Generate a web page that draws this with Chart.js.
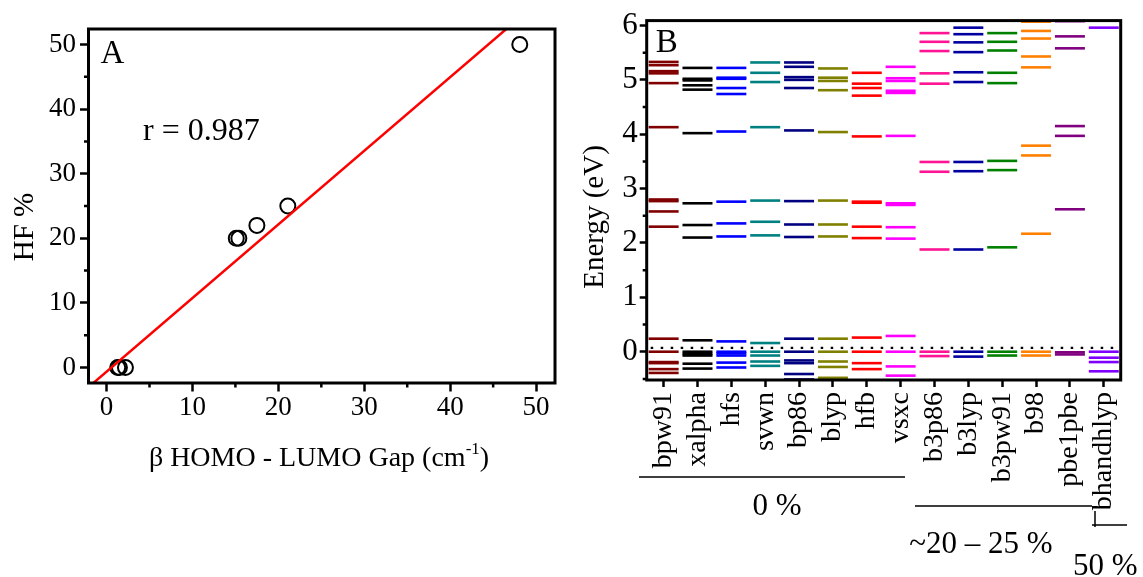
<!DOCTYPE html>
<html>
<head>
<meta charset="utf-8">
<script src="https://cdn.jsdelivr.net/npm/chart.js@4.4.0/dist/chart.umd.min.js"></script>
<style>
  html, body { margin: 0; padding: 0; background: #fff; }
  #wrap { position: relative; width: 1143px; height: 577px; }
  #wrap canvas { position: absolute; left: 0; top: 0; }
</style>
</head>
<body>
<div id="wrap">
  <canvas id="chart-a" width="1143" height="577"></canvas>
  <canvas id="chart-b" width="1143" height="577"></canvas>
</div>
<script>
// ── Panel A data: HF % vs beta HOMO-LUMO gap ─────────────────────
const gapValues = [1.3, 1.5, 2.2, 15.1, 15.4, 17.5, 21.1, 48.1];
const hfPercent = [0, 0, 0, 20, 20, 22, 25, 50];
const fitGap = [-2.5, 52.5];
const fitHF = [-3.5, 59.2];
const gapTicks = [0, 10, 20, 30, 40, 50];
const gapMinor = [5, 15, 25, 35, 45];
const hfTicks = [0, 10, 20, 30, 40, 50];
const hfMinor = [5, 15, 25, 35, 45];

// ── Panel B data: orbital energies (eV) per functional ───────────
const functionals = ['bpw91', 'xalpha', 'hfs', 'svwn', 'bp86', 'blyp', 'hfb', 'vsxc',
  'b3p86', 'b3lyp', 'b3pw91', 'b98', 'pbe1pbe', 'bhandhlyp'];
const levelColors = ['#800000', '#000000', '#0000FF', '#008080', '#000080', '#808000', '#FF0000', '#FF00FF',
  '#FF1493', '#0000A0', '#008000', '#FF8000', '#800080', '#8000FF'];

const bpw91 = [5.33, 5.27, 5.16, 5.12, 4.94, 4.13, 2.80, 2.77, 2.58, 2.30, 0.24, 0.00, -0.19, -0.21, -0.32, -0.39];
const xalpha = [5.22, 5.02, 4.99, 4.90, 4.82, 4.02, 2.73, 2.33, 2.10, 0.21, 0.00, -0.04, -0.07, -0.22, -0.31];
const hfs = [5.22, 5.04, 5.02, 4.85, 4.74, 4.05, 2.76, 2.36, 2.12, 0.19, 0.00, -0.03, -0.07, -0.20, -0.29];
const svwn = [5.32, 5.13, 4.96, 4.13, 2.78, 2.39, 2.14, 0.16, 0.00, -0.07, -0.18, -0.26];
const bp86 = [5.32, 5.24, 5.05, 5.00, 4.85, 4.07, 2.77, 2.34, 2.11, 0.24, 0.00, -0.16, -0.21, -0.41, -0.51];
const blyp = [5.21, 5.04, 4.98, 4.81, 4.04, 2.78, 2.34, 2.12, 0.24, 0.00, -0.18, -0.28, -0.48];
const hfb = [5.13, 4.93, 4.85, 4.71, 3.96, 2.76, 2.74, 2.30, 2.09, 0.26, 0.00, -0.21, -0.32];
const vsxc = [5.24, 5.03, 4.98, 4.80, 4.76, 3.97, 2.73, 2.70, 2.29, 2.08, 0.29, 0.00, -0.27, -0.44];
const b3p86 = [5.86, 5.70, 5.53, 5.12, 4.93, 3.49, 3.31, 1.88, 0.00, -0.08];
const b3lyp = [5.96, 5.84, 5.69, 5.51, 5.14, 4.96, 3.49, 3.32, 1.88, 0.00, -0.09];
const b3pw91 = [5.86, 5.70, 5.54, 5.13, 4.94, 3.51, 3.34, 1.92, 0.00, -0.07];
const b98 = [6.07, 5.90, 5.76, 5.43, 5.23, 3.79, 3.61, 2.17, 0.00, -0.07];
const pbe1pbe = [6.08, 5.80, 5.58, 4.15, 3.97, 2.62, -0.01, -0.05];
const bhandhlyp = [5.96, 0.00, -0.11, -0.19, -0.36];
const levelSets = [bpw91, xalpha, hfs, svwn, bp86, blyp, hfb, vsxc, b3p86, b3lyp, b3pw91, b98, pbe1pbe, bhandhlyp];

const energyTicks = [0, 1, 2, 3, 4, 5, 6];
const energyMinor = [-0.5, 0.5, 1.5, 2.5, 3.5, 4.5, 5.5];
const fermiLevel = 0.07;

const SERIF = "'Liberation Serif', 'Times New Roman', serif";
Chart.defaults.font.family = SERIF;
Chart.defaults.color = '#000';

const fixTicks = values => scale => { scale.ticks = values.map(v => ({ value: v })); };

const axisGrid = len => ({
  drawOnChartArea: false, drawTicks: true, tickLength: len, tickWidth: 2.5, tickColor: '#000',
});

function drawBox(ctx, a) {
  ctx.strokeStyle = '#000';
  ctx.lineWidth = 3;
  ctx.strokeRect(a.left, a.top, a.right - a.left, a.bottom - a.top);
}

// ── Panel A extras: frame, minor ticks, labels ───────────────────
const panelAExtras = {
  id: 'panelAExtras',
  afterDraw(chart) {
    const { ctx, chartArea: a, scales: { x, y } } = chart;
    ctx.save();
    drawBox(ctx, a);
    ctx.lineWidth = 2.5;
    ctx.beginPath();
    gapMinor.forEach(v => { const px = x.getPixelForValue(v); ctx.moveTo(px, a.bottom); ctx.lineTo(px, a.bottom + 4.5); });
    hfMinor.forEach(v => { const py = y.getPixelForValue(v); ctx.moveTo(a.left, py); ctx.lineTo(a.left - 4.5, py); });
    ctx.stroke();

    ctx.fillStyle = '#000';
    ctx.textAlign = 'left';
    ctx.textBaseline = 'alphabetic';
    ctx.font = `33px ${SERIF}`;
    ctx.fillText('A', a.left + 12, 63);
    ctx.font = `32px ${SERIF}`;
    ctx.fillText('r = 0.987', 143, 140);

    // y title
    ctx.save();
    ctx.translate(25, 227);
    ctx.rotate(-Math.PI / 2);
    ctx.font = `29px ${SERIF}`;
    ctx.textAlign = 'center';
    ctx.textBaseline = 'middle';
    ctx.fillText('HF %', 0, 0);
    ctx.restore();

    // x title with superscript
    const main = 'β HOMO - LUMO Gap (cm', sup = '-1', tail = ')';
    ctx.font = `28px ${SERIF}`;
    const wMain = ctx.measureText(main).width, wTail = ctx.measureText(tail).width;
    ctx.font = `17px ${SERIF}`;
    const wSup = ctx.measureText(sup).width;
    let tx = 319 - (wMain + wSup + wTail) / 2;
    ctx.font = `28px ${SERIF}`;
    ctx.fillText(main, tx, 466);
    tx += wMain;
    ctx.font = `17px ${SERIF}`;
    ctx.fillText(sup, tx, 454);
    tx += wSup;
    ctx.font = `28px ${SERIF}`;
    ctx.fillText(tail, tx, 466);
    ctx.restore();
  },
};

// ── Panel B extras: frame, dotted reference, group brackets ──────
const panelBExtras = {
  id: 'panelBExtras',
  afterDraw(chart) {
    const { ctx, chartArea: a, scales: { y } } = chart;
    ctx.save();
    drawBox(ctx, a);
    ctx.lineWidth = 2.5;
    ctx.beginPath();
    energyMinor.forEach(v => { const py = y.getPixelForValue(v); ctx.moveTo(a.left, py); ctx.lineTo(a.left - 4, py); });
    ctx.stroke();

    // dotted line
    const fy = y.getPixelForValue(fermiLevel);
    ctx.setLineDash([2.5, 7.5]);
    ctx.lineWidth = 2.2;
    ctx.beginPath();
    ctx.moveTo(a.left + 4, fy);
    ctx.lineTo(a.right, fy);
    ctx.stroke();
    ctx.setLineDash([]);

    ctx.fillStyle = '#000';
    ctx.textBaseline = 'alphabetic';
    ctx.textAlign = 'left';
    ctx.font = `33px ${SERIF}`;
    ctx.fillText('B', a.left + 9, 52);

    ctx.save();
    ctx.translate(595, 217);
    ctx.rotate(-Math.PI / 2);
    ctx.font = `29px ${SERIF}`;
    ctx.textAlign = 'center';
    ctx.textBaseline = 'middle';
    ctx.fillText('Energy (eV)', 0, 0);
    ctx.restore();

    // group brackets
    ctx.lineWidth = 1.5;
    ctx.beginPath();
    ctx.moveTo(639, 477); ctx.lineTo(905, 477);
    ctx.moveTo(915, 506); ctx.lineTo(1092, 506);
    ctx.moveTo(1092, 525); ctx.lineTo(1127, 525);
    ctx.moveTo(1095, 511); ctx.lineTo(1095, 527);
    ctx.stroke();

    ctx.font = `31px ${SERIF}`;
    ctx.textAlign = 'center';
    ctx.fillText('0 %', 777, 515);
    ctx.fillText('~20 – 25 %', 981, 553);
    ctx.textAlign = 'left';
    ctx.fillText('50 %', 1073, 575);
    ctx.restore();
  },
};

new Chart(document.getElementById('chart-a'), {
  type: 'scatter',
  data: {
    datasets: [
      {
        type: 'line',
        data: fitGap.map((g, i) => ({ x: g, y: fitHF[i] })),
        borderColor: '#FF0000',
        borderWidth: 2.5,
        pointRadius: 0,
        fill: false,
      },
      {
        data: gapValues.map((g, i) => ({ x: g, y: hfPercent[i] })),
        pointStyle: 'circle',
        pointRadius: 7.5,
        borderWidth: 2,
        pointBorderWidth: 2,
        borderColor: '#000',
        backgroundColor: 'rgba(0,0,0,0)',
      },
    ],
  },
  options: {
    responsive: false,
    animation: false,
    events: [],
    layout: { padding: { left: 0, top: 29, right: 588, bottom: 0 } },
    plugins: { legend: { display: false }, tooltip: { enabled: false } },
    scales: {
      x: {
        type: 'linear', min: -2.1, max: 52.2,
        afterBuildTicks: fixTicks(gapTicks),
        afterFit: s => { s.height = 194; },
        grid: axisGrid(8.5),
        border: { display: false },
        ticks: { font: { size: 27 }, padding: 0, maxRotation: 0 },
      },
      y: {
        type: 'linear', min: -2.4, max: 52.4,
        afterBuildTicks: fixTicks(hfTicks),
        afterFit: s => { s.width = 88.5; },
        grid: axisGrid(8.5),
        border: { display: false },
        ticks: { font: { size: 27 }, padding: 4 },
      },
    },
  },
  plugins: [panelAExtras],
});

new Chart(document.getElementById('chart-b'), {
  type: 'line',
  data: {
    labels: functionals,
    datasets: functionals.map((name, i) => ({
      label: name,
      data: levelSets[i].map(e => ({ x: name, y: e })),
      showLine: false,
      pointStyle: 'line',
      pointRadius: 15,
      pointBorderWidth: 2.6,
      pointBorderColor: levelColors[i],
      borderColor: levelColors[i],
      clip: false,
    })),
  },
  options: {
    responsive: false,
    animation: false,
    events: [],
    layout: { padding: { left: 560, top: 19, right: 16, bottom: 0 } },
    plugins: { legend: { display: false }, tooltip: { enabled: false } },
    scales: {
      x: {
        type: 'category', offset: true,
        afterFit: s => { s.height = 197; },
        grid: axisGrid(7),
        border: { display: false },
        ticks: { font: { size: 28 }, minRotation: 90, maxRotation: 90, autoSkip: false, padding: 5 },
      },
      y: {
        type: 'linear', min: -0.52, max: 6.09,
        afterBuildTicks: fixTicks(energyTicks),
        afterFit: s => { s.width = 86.7; },
        grid: axisGrid(7),
        border: { display: false },
        ticks: { font: { size: 31 }, padding: 2 },
      },
    },
  },
  plugins: [panelBExtras],
});
</script>
</body>
</html>
